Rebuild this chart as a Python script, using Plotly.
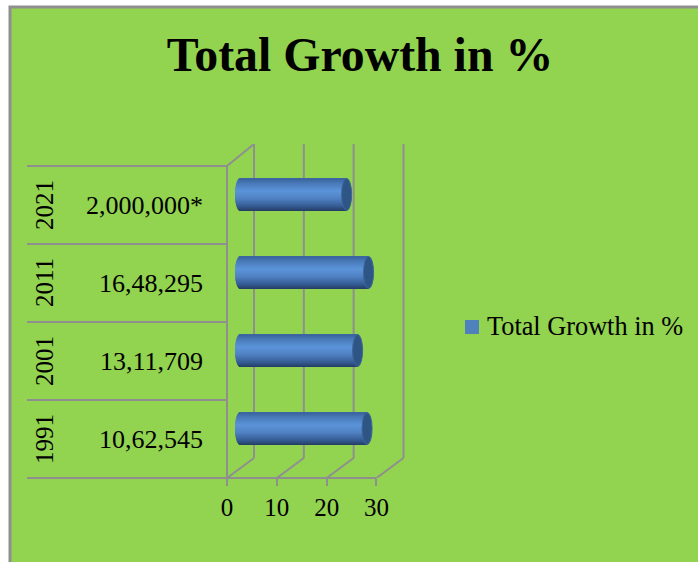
import math
import plotly.graph_objects as go

# Chart data
years = ["1991", "2001", "2011", "2021"]
population = ["10,62,545", "13,11,709", "16,48,295", "2,000,000*"]
growth_pct = [25.5, 23.6, 25.8, 21.4]
x_ticks = [0, 10, 20, 30]
series_name = "Total Growth in %"

# Page and plot frame, in pixels
W, H = 698, 562
LEFT, RIGHT, TOP, BOTTOM = 227, 410, 144, 478
PX_PER_UNIT = 4.983
PX_PER_BAND = 78.0

GREEN = "#92d350"
GREY = "#8f8f8f"
SWATCH = "#4f81bd"
CAP = "#2f5585"
FONT = "Liberation Serif"

x_max = (RIGHT - LEFT) / PX_PER_UNIT
y_top = (BOTTOM - TOP) / PX_PER_BAND - 0.5

# Oblique projection of the 3D box
wall_dx = 27 / PX_PER_UNIT
wall_dy = 20 / PX_PER_BAND
bar_dx = 13 / PX_PER_UNIT
bar_dy = 10.5 / PX_PER_BAND
bar_half = 16 / PX_PER_BAND
cap_rx = 5 / PX_PER_UNIT


def px(p):
    return (p - LEFT) / (RIGHT - LEFT)


def py(p):
    return (BOTTOM - p) / (BOTTOM - TOP)


def shade(t):
    """Cylinder colour at t, running from -1 (bottom edge) to 1 (top edge)."""
    stops = [(-1.0, (36, 60, 100)), (-0.72, (52, 90, 145)), (-0.2, (80, 130, 196)),
             (0.25, (91, 148, 218)), (0.75, (72, 120, 182)), (1.0, (58, 100, 158))]
    for (a, ca), (b, cb) in zip(stops, stops[1:]):
        if t <= b:
            f = (t - a) / (b - a)
            r, g, bl = (round(u + (v - u) * f) for u, v in zip(ca, cb))
            return f"rgb({r},{g},{bl})"
    return "rgb(58,100,158)"


fig = go.Figure()

# Each cylinder is a stack of thin bars that shade from bottom to top
BANDS = 32
step = 2 * bar_half / BANDS
for k in range(BANDS):
    t = -1 + (k + 0.5) * 2 / BANDS
    bulge = cap_rx * math.sqrt(max(0.0, 1 - t * t))
    fig.add_trace(go.Bar(
        y=years,
        x=[v + bulge for v in growth_pct],
        base=[bar_dx - bulge] * len(years),
        orientation="h",
        width=step * 1.6,
        offset=bar_dy + t * bar_half - step * 0.5,
        marker=dict(color=shade(t), line=dict(width=0)),
        showlegend=False,
        hoverinfo="skip",
    ))

line = dict(color=GREY, width=2)
shapes = [
    # Page background with its frame
    dict(type="rect", xref="paper", yref="paper", layer="below",
         x0=px(10), x1=px(W + 10), y0=py(H + 10), y1=py(7),
         fillcolor=GREEN, line=dict(color=GREY, width=3)),
    # Side wall, floor front edge and the lowest separator
    dict(type="line", xref="paper", yref="paper", layer="below", x0=0, x1=0,
         y0=py(BOTTOM), y1=py(BOTTOM - 4 * PX_PER_BAND), line=line),
    dict(type="line", xref="paper", yref="paper", layer="below",
         x0=px(27), x1=px(LEFT + x_ticks[-1] * PX_PER_UNIT),
         y0=0, y1=0, line=line),
    dict(type="line", xref="x", yref="y", layer="below", x0=0, x1=wall_dx,
         y0=3.5, y1=y_top, line=line),
    # Legend key
    dict(type="rect", xref="paper", yref="paper", layer="below",
         x0=px(465), x1=px(479), y0=py(334), y1=py(320),
         fillcolor=SWATCH, line=dict(width=0)),
]

# Back wall gridlines and the floor lines leading to them
for v in x_ticks:
    shapes.append(dict(type="line", xref="x", yref="y", layer="below",
                       x0=v + wall_dx, x1=v + wall_dx,
                       y0=-0.5 + wall_dy, y1=y_top, line=line))
    shapes.append(dict(type="line", xref="x", yref="y", layer="below",
                       x0=v, x1=v + wall_dx,
                       y0=-0.5, y1=-0.5 + wall_dy, line=line))

# Category separators run out to the left of the axis
for i in range(1, len(years) + 1):
    shapes.append(dict(type="line", xref="paper", yref="y", layer="below",
                       x0=px(27), x1=0, y0=i - 0.5, y1=i - 0.5, line=line))

# Dark end caps of the cylinders
for i, v in enumerate(growth_pct):
    shapes.append(dict(type="circle", xref="x", yref="y", layer="above",
                       x0=bar_dx + v - cap_rx, x1=bar_dx + v + cap_rx,
                       y0=i + bar_dy - bar_half, y1=i + bar_dy + bar_half,
                       fillcolor=CAP, line=dict(color="#3a659c", width=1)))

# Year labels, the outer level of the category axis
annotations = [
    dict(text=year, xref="paper", yref="y", x=px(44), y=i, showarrow=False,
         textangle=-90, xanchor="center", yanchor="middle",
         font=dict(family=FONT, size=25, color="black"))
    for i, year in enumerate(years)
]

# Legend label
annotations.append(dict(text=series_name, xref="paper", yref="paper",
                        x=px(486), y=py(326), showarrow=False,
                        xanchor="left", yanchor="middle", xshift=-1,
                        font=dict(family=FONT, size=26.3, color="black")))

fig.update_layout(
    width=W, height=H, autosize=False,
    margin=dict(l=LEFT, r=W - RIGHT, t=TOP, b=H - BOTTOM, pad=0, autoexpand=False),
    paper_bgcolor="white",
    plot_bgcolor="rgba(0,0,0,0)",
    barmode="overlay",
    showlegend=False,
    font=dict(family=FONT, color="black"),
    title=dict(text=f"<b>{series_name}</b>", x=360 / W, xanchor="center",
               y=1 - 54 / H, yanchor="middle",
               font=dict(family=FONT, size=47.8, color="black")),
    xaxis=dict(range=[0, x_max], tickmode="array", tickvals=x_ticks,
               ticks="outside", ticklen=7, tickwidth=2, tickcolor=GREY,
               showgrid=False, zeroline=False, showline=False,
               tickfont=dict(family=FONT, size=25, color="black")),
    yaxis=dict(type="category", categoryorder="array", categoryarray=years,
               range=[-0.5, y_top], tickmode="array", tickvals=years,
               ticktext=population, ticks="", ticklabelstandoff=23,
               showgrid=False, zeroline=False, showline=False,
               tickfont=dict(family=FONT, size=26, color="black")),
    shapes=shapes,
    annotations=annotations,
    hovermode=False,
)

fig.write_html("out.html", config=dict(displayModeBar=False))
